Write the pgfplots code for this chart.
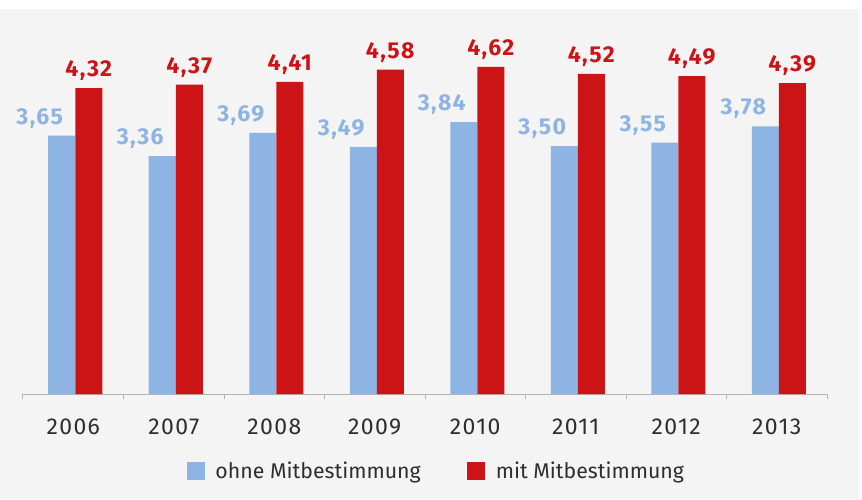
\documentclass[border=0pt]{standalone}
\usepackage{pgfplots}
\pgfplotsset{compat=1.18}
\usepackage{fontspec}
\setmainfont{Fira Sans}
\newfontfamily\labfont[LetterSpace=6]{Fira Sans}
\definecolor{cblue}{HTML}{8DB4E2}
\definecolor{cred}{HTML}{CC1417}
\definecolor{cbg}{HTML}{F4F4F4}
\definecolor{ctext}{HTML}{2E2E2E}
\definecolor{caxis}{HTML}{B4B4B4}
\pgfplotsset{mylegend/.style={legend image code/.code={\fill[##1] (0pt,-9pt) rectangle (18pt,9pt);}}}
\begin{document}
\begin{tikzpicture}
\fill[white] (0,0) rectangle (862pt,499pt);
\fill[cbg] (0,0) rectangle (859pt,490pt);
\begin{axis}[
  at={(23pt,105pt)}, anchor=south west,
  scale only axis, width=804pt, height=389.4pt,
  xmin=-0.5, xmax=7.5, ymin=0, ymax=5.5,
  axis x line*=bottom, axis y line=none,
  x axis line style={caxis, line width=1pt},
  xtick={0,...,7},
  xticklabels={2006,2007,2008,2009,2010,2011,2012,2013},
  minor xtick={-0.5,0.5,...,7.5},
  major tick length=0pt, minor tick length=5pt,
  tick align=outside,
  minor tick style={draw=caxis, line width=1pt},
  xticklabel style={font=\labfont\fontsize{23}{27}\selectfont, text=ctext, anchor=center, yshift=-33pt},
  ybar=0pt, bar width=27pt,
  clip=false,
  nodes near coords={\pgfmathprintnumber[fixed,fixed zerofill,precision=2,use comma,assume math mode=true]{\pgfplotspointmeta}},
  every node near coord/.append style={font=\labfont\bfseries\fontsize{23}{27}\selectfont, anchor=base, yshift=11.5pt},
  every axis plot post/.append style={mylegend},
  legend style={at={(0.514,-0.198)}, anchor=center, draw=none, fill=none,
    legend columns=2, font=\fontsize{21.3}{25}\selectfont, text=ctext,
    /tikz/every odd column/.append style={column sep=9pt},
    /tikz/every even column/.append style={column sep=44pt}},
]
\addplot[fill=cblue, draw=none, bar shift=-11.5pt, every node near coord/.append style={text=cblue, xshift=-22pt}]
  coordinates {(0,3.65) (1,3.36) (2,3.69) (3,3.49) (4,3.84) (5,3.50) (6,3.55) (7,3.78)};
\addlegendentry{ohne Mitbestimmung}
\addplot[fill=cred, draw=none, bar shift=15.5pt, every node near coord/.append style={text=cred}]
  coordinates {(0,4.32) (1,4.37) (2,4.41) (3,4.58) (4,4.62) (5,4.52) (6,4.49) (7,4.39)};
\addlegendentry{mit Mitbestimmung}
\end{axis}
\pgfresetboundingbox
\useasboundingbox (0,0) rectangle (862pt,499pt);
\end{tikzpicture}
\end{document}
